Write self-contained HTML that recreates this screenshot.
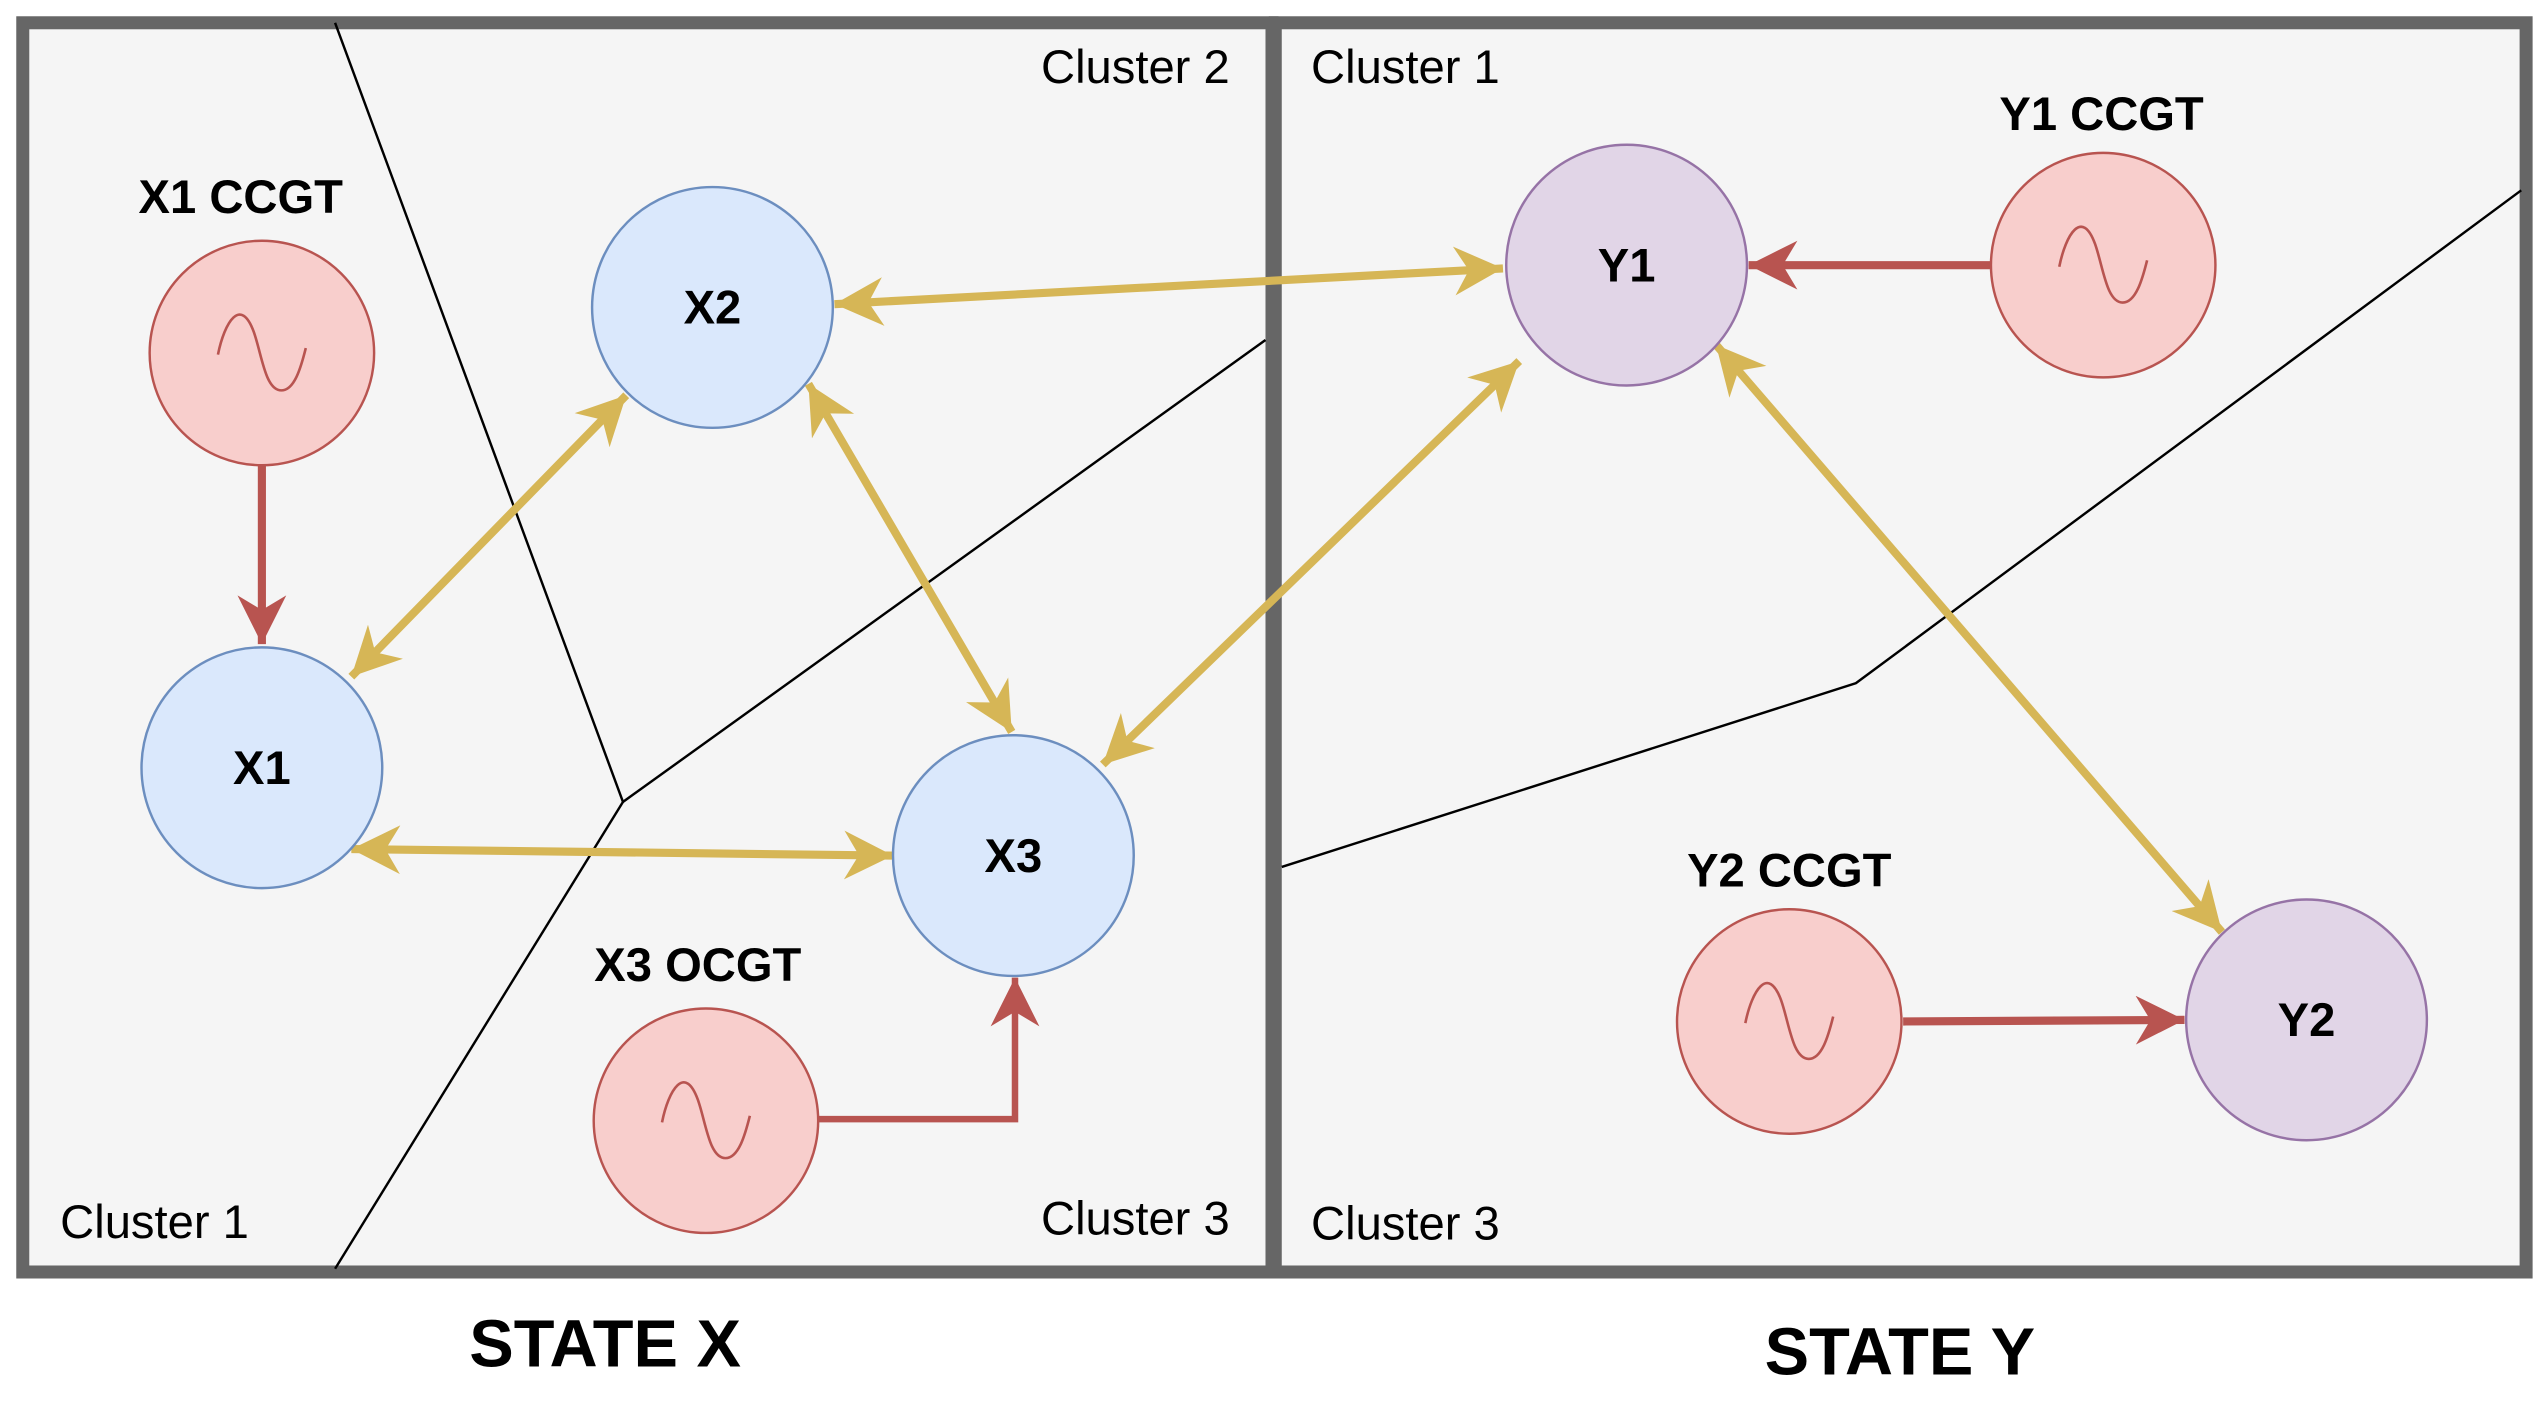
<!DOCTYPE html>
<html><head><meta charset="utf-8"><style>
html,body{margin:0;padding:0;background:#fff;}
svg{display:block;}
text{font-family:"Liberation Sans",Arial,sans-serif;}
</style></head><body>
<svg width="2544" height="1407" viewBox="0 0 1564 865" preserveAspectRatio="none" xmlns="http://www.w3.org/2000/svg">
<defs>
<marker id="ay" viewBox="0 0 10 10" markerUnits="userSpaceOnUse" markerWidth="34" markerHeight="30" refX="10" refY="5" orient="auto-start-reverse"><path d="M0,0 L10,5 L0,10 L3,5 z" fill="#d6b656"/></marker>
<marker id="ar" viewBox="0 0 10 10" markerUnits="userSpaceOnUse" markerWidth="34" markerHeight="30" refX="10" refY="5" orient="auto"><path d="M0,0 L10,5 L0,10 L3,5 z" fill="#b85450"/></marker>
<g id="sine"><path d="M-27,8 C-23,-12 -13,-28 -5,-6 C0,8 2,30 12,30 C20,30 24,16 27,4" fill="none" stroke="#b85450" stroke-width="1.6"/></g>
</defs>
<rect x="0" y="0" width="1564" height="865" fill="#fff"/>
<rect x="14" y="14" width="768" height="768" fill="#f5f5f5" stroke="#666" stroke-width="8"/>
<rect x="784" y="14" width="769" height="768" fill="#f5f5f5" stroke="#666" stroke-width="8"/>
<g stroke="#000" stroke-width="1.5" fill="none">
<polyline points="206,14 383,493 778,209"/>
<line x1="383" y1="493" x2="206" y2="780"/>
<polyline points="788,533 1141,420 1550,117"/>
</g>
<g font-size="29" fill="#000">
<text x="640" y="51">Cluster 2</text>
<text x="806" y="51">Cluster 1</text>
<text x="37" y="761">Cluster 1</text>
<text x="640" y="759">Cluster 3</text>
<text x="806" y="762">Cluster 3</text>
</g>
<g stroke="#d6b656" stroke-width="5" fill="none" marker-start="url(#ay)" marker-end="url(#ay)">
<line x1="513" y1="187" x2="924" y2="165"/>
<line x1="216" y1="416" x2="385" y2="243"/>
<line x1="497" y1="236" x2="622" y2="450"/>
<line x1="216" y1="522" x2="549" y2="526"/>
<line x1="678" y1="470" x2="934" y2="222"/>
<line x1="1055" y1="212" x2="1366" y2="573"/>
</g>
<g stroke="#b85450" stroke-width="5" fill="none" marker-end="url(#ar)">
<line x1="161" y1="286" x2="161" y2="396"/>
<line x1="1224" y1="163" x2="1075" y2="163"/>
<line x1="1170" y1="628" x2="1343" y2="627"/>
<polyline points="503,688 624,688 624,601" stroke-width="4"/>
</g>
<g stroke-width="1.5">
<circle cx="161" cy="472" r="74" fill="#dae8fc" stroke="#6c8ebf"/>
<circle cx="438" cy="189" r="74" fill="#dae8fc" stroke="#6c8ebf"/>
<circle cx="623" cy="526" r="74" fill="#dae8fc" stroke="#6c8ebf"/>
<circle cx="1000" cy="163" r="74" fill="#e1d5e7" stroke="#9673a6"/>
<circle cx="1418" cy="627" r="74" fill="#e1d5e7" stroke="#9673a6"/>
<circle cx="161" cy="217" r="69" fill="#f8cecc" stroke="#b85450"/>
<circle cx="434" cy="689" r="69" fill="#f8cecc" stroke="#b85450"/>
<circle cx="1293" cy="163" r="69" fill="#f8cecc" stroke="#b85450"/>
<circle cx="1100" cy="628" r="69" fill="#f8cecc" stroke="#b85450"/>
</g>
<use href="#sine" x="161" y="210"/>
<use href="#sine" x="434" y="682"/>
<use href="#sine" x="1293" y="156"/>
<use href="#sine" x="1100" y="621"/>
<g font-size="29" font-weight="bold" text-anchor="middle" fill="#000">
<text x="161" y="482">X1</text>
<text x="438" y="199">X2</text>
<text x="623" y="536">X3</text>
<text x="1000" y="173">Y1</text>
<text x="1418" y="637">Y2</text>
<text x="148" y="131">X1 CCGT</text>
<text x="429" y="603">X3 OCGT</text>
<text x="1292" y="80">Y1 CCGT</text>
<text x="1100" y="545">Y2 CCGT</text>
</g>
<g font-size="41" font-weight="bold" text-anchor="middle" fill="#000">
<text x="372" y="840">STATE X</text>
<text x="1168" y="845">STATE Y</text>
</g>
</svg>
</body></html>
